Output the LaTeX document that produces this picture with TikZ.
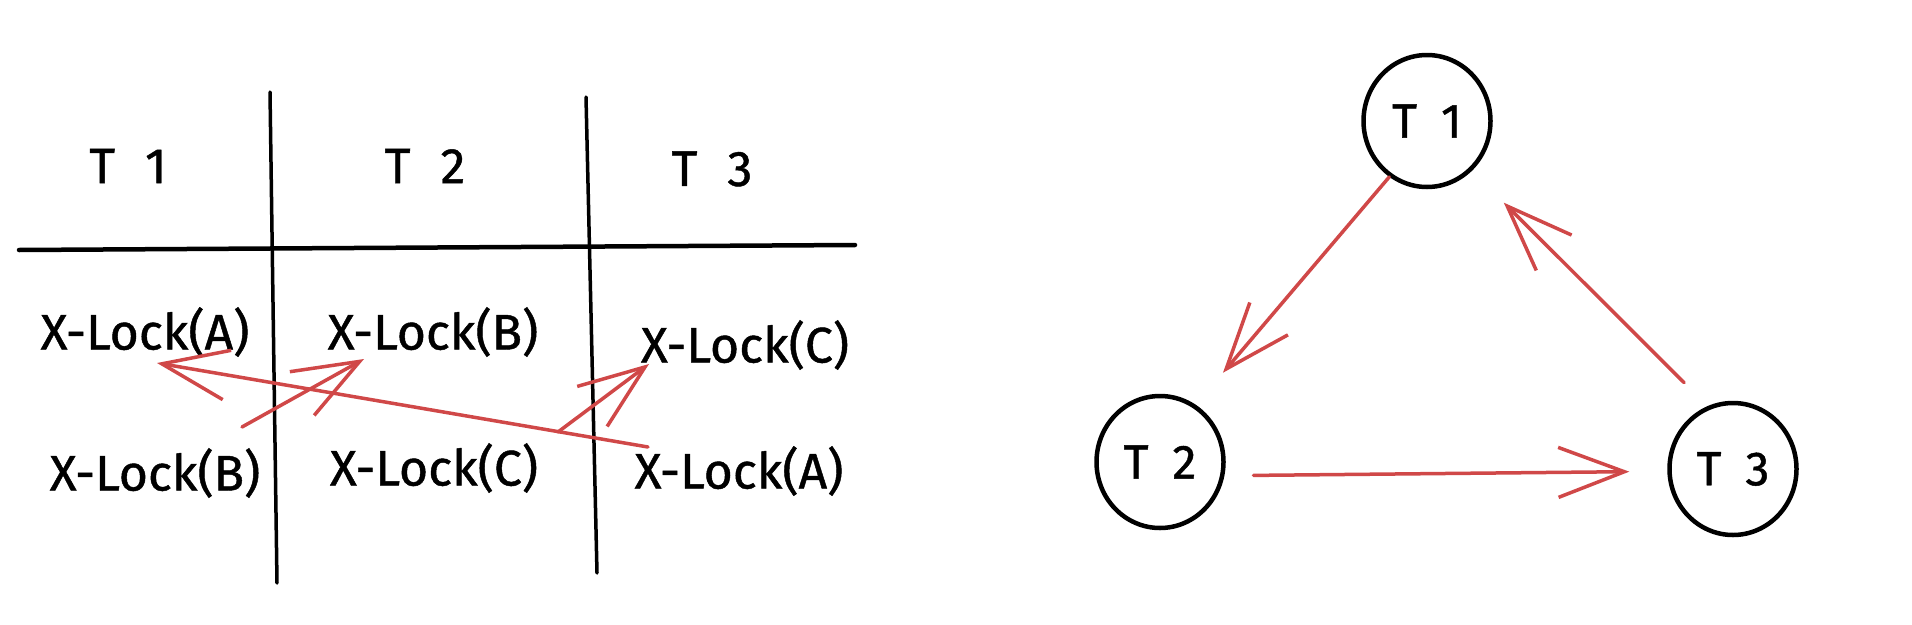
\documentclass[tikz,border=0pt]{standalone}
\usepackage{fontspec}
\setmainfont{Fira Sans}
\newfontfamily\sketchfont{Fira Sans}[FakeBold=0.9]
\usetikzlibrary{arrows.meta,shapes.geometric}
\definecolor{sketchred}{RGB}{208,72,72}
\begin{document}
\begin{tikzpicture}[x=1pt,y=-1pt,
  gridline/.style={line width=3.5pt, black, line cap=round},
  lockcell/.style={inner sep=0pt, font=\sketchfont\fontsize{50}{60}\selectfont},
  headcell/.style={inner sep=0pt, font=\sketchfont\fontsize{50}{60}\selectfont},
  txnode/.style={ellipse, draw, line width=4.5pt, minimum width=127pt, minimum height=132pt, inner sep=0pt, font=\sketchfont\fontsize{48}{56}\selectfont},
  redarrow/.style={sketchred, line width=3.5pt, line cap=round, line join=round,
    -{Straight Barb[length=66pt,width=50pt]}}
]
\useasboundingbox[fill=white] (0,0) rectangle (1912,624);

% table grid
\draw[gridline] (270,92) -- (277,583);
\draw[gridline] (586,97) -- (597,573);
\draw[gridline, line width=4.5pt] (19,250) -- (855,245);

% headers
\node[headcell] (h1) at (128,166) {T\hspace{.6em}1};
\node[headcell] (h2) at (425,166) {T\hspace{.6em}2};
\node[headcell] (h3) at (712,169) {T\hspace{.6em}3};

% lock cells
\node[lockcell] (c11) at (145,332) {X-Lock(A)};
\node[lockcell] (c12) at (433,332) {X-Lock(B)};
\node[lockcell] (c13) at (745,345) {X-Lock(C)};
\node[lockcell] (c21) at (155,473) {X-Lock(B)};
\node[lockcell] (c22) at (434,468) {X-Lock(C)};
\node[lockcell] (c23) at (739,471) {X-Lock(A)};

% wait arrows in the table
\draw[redarrow] ([shift={(-91,-24)}]c23.center) -- ([shift={(12,31)}]c11.center);
\draw[redarrow] ([shift={(87,-46)}]c21.center) -- ([shift={(-69,27)}]c12.center);
\draw[redarrow] ([shift={(124,-36)}]c22.center) -- ([shift={(-96,19)}]c13.center);

% wait-for graph
\node[txnode] (t1) at (1427,121) {T\hspace{.5em}1};
\node[txnode] (t2) at (1160,462) {T\hspace{.5em}2};
\node[txnode] (t3) at (1733,469) {T\hspace{.5em}3};

\draw[redarrow, shorten >=42pt] (t1.236) -- (t2.58);
\draw[redarrow, shorten <=29pt, shorten >=38pt] (t2.-12) -- (t3.182);
\draw[redarrow, shorten <=33pt, shorten >=45pt] (t3.112) -- (t1.-48);
\end{tikzpicture}
\end{document}
